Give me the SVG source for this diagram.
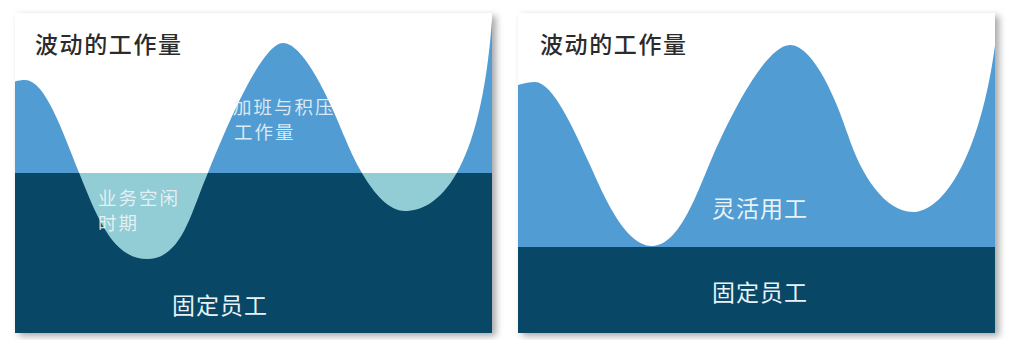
<svg xmlns="http://www.w3.org/2000/svg" width="1017" height="340" viewBox="0 0 1017 340">
  <style>
    .title { font-family: "Noto Sans CJK SC", "Noto Sans", sans-serif; font-size: 23px; fill: #2b2b2b; letter-spacing: 1.6px; font-weight: 500; }
    .lbl { font-family: "Noto Sans CJK SC", "Noto Sans", sans-serif; font-size: 18.5px; fill: #eef6f9; fill-opacity: 0.88; letter-spacing: 2px; }
    .big { font-family: "Noto Sans CJK SC", "Noto Sans", sans-serif; font-size: 23px; fill: #e9f3f7; letter-spacing: 1px; }
    .wave { fill: #519cd3; }
    .dark { fill: #084766; }
    .teal { fill: #92ccd5; }
    .panel { fill: #ffffff; filter: url(#shadow); }
  </style>
  <defs>
    <filter id="shadow" x="-5%" y="-5%" width="112%" height="115%">
      <feDropShadow dx="4" dy="3" stdDeviation="3.5" flood-color="#000000" flood-opacity="0.35"/>
    </filter>
    <clipPath id="clipLTop"><rect x="15" y="13" width="477" height="160"/></clipPath>
    <clipPath id="clipLBot"><rect x="15" y="173" width="477" height="160"/></clipPath>
    <clipPath id="clipR"><rect x="518" y="13" width="477" height="320"/></clipPath>
    <path id="waveL" d="M 5,86 C 12,82 18,80 25,80 C 45,80 62,130 80,175 C 98,220 114,259 147,259 C 180,259 190,217 205,180 C 220,143 260,43 283,43 C 305,43 333,108 345,138 C 357,168 380,211 405,211 C 435,211 480,180 492,20 L 500,0 L 500,340 L 5,340 Z"/>
  </defs>
  <rect x="0" y="0" width="1017" height="340" fill="#ffffff"/>

  <g id="panel-left">
    <rect class="panel" x="15" y="13" width="477" height="320"/>
    <use href="#waveL" class="wave" clip-path="url(#clipLTop)"/>
    <rect class="teal" x="15" y="173" width="477" height="160"/>
    <use href="#waveL" class="dark" clip-path="url(#clipLBot)"/>
    <text class="title" x="35" y="53">波动的工作量</text>
    <g id="label-overtime">
      <text class="lbl" x="233" y="114">加班与积压</text>
      <text class="lbl" x="234" y="139">工作量</text>
    </g>
    <g id="label-idle">
      <text class="lbl" x="98" y="205">业务空闲</text>
      <text class="lbl" x="98" y="230">时期</text>
    </g>
    <text class="big" x="172" y="314">固定员工</text>
  </g>

  <g id="panel-right">
    <rect class="panel" x="518" y="13" width="477" height="320"/>
    <path class="wave" clip-path="url(#clipR)" d="M 510,88 C 520,84 528,82 535,82 C 553,82 574,130 590,165 C 602,191 624,246 652,246 C 680,246 698,190 712,158 C 728,121 765,45 790,45 C 812,45 835,95 848,135 C 861,175 885,212 913,212 C 945,212 985,150 998,20 L 1005,0 L 1005,340 L 510,340 Z"/>
    <rect class="dark" x="518" y="247" width="477" height="86"/>
    <text class="title" x="540" y="53">波动的工作量</text>
    <text class="big" x="712" y="217">灵活用工</text>
    <text class="big" x="712" y="301">固定员工</text>
  </g>

  <g id="connectors"/>
</svg>
